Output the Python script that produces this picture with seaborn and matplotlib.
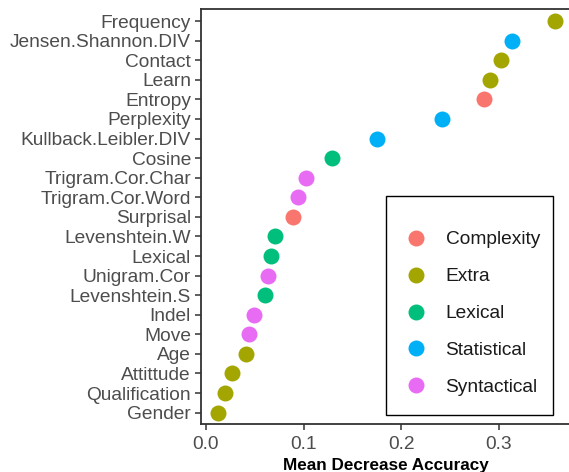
import matplotlib
matplotlib.use("Agg")
import matplotlib.pyplot as plt
import pandas as pd
import seaborn as sns
from matplotlib.patches import Rectangle

features = [
    "Frequency", "Jensen.Shannon.DIV", "Contact", "Learn", "Entropy", "Perplexity",
    "Kullback.Leibler.DIV", "Cosine", "Trigram.Cor.Char", "Trigram.Cor.Word",
    "Surprisal", "Levenshtein.W", "Lexical", "Unigram.Cor", "Levenshtein.S",
    "Indel", "Move", "Age", "Attittude", "Qualification", "Gender",
]
accuracy = [
    0.3576, 0.314, 0.302, 0.291, 0.285, 0.242,
    0.175, 0.129, 0.1025, 0.094,
    0.0895, 0.0703, 0.0666, 0.0632, 0.0605,
    0.0495, 0.044, 0.0406, 0.0263, 0.0195, 0.012,
]
groups = [
    "Extra", "Statistical", "Extra", "Extra", "Complexity", "Statistical",
    "Statistical", "Lexical", "Syntactical", "Syntactical",
    "Complexity", "Lexical", "Lexical", "Syntactical", "Lexical",
    "Syntactical", "Syntactical", "Extra", "Extra", "Extra", "Extra",
]
group_order = ["Complexity", "Extra", "Lexical", "Statistical", "Syntactical"]
palette = ["#F8766D", "#A3A500", "#00BF7D", "#00B0F6", "#E76BF3"]

df = pd.DataFrame({"feature": features, "mda": accuracy, "group": groups})

sns.set_style("ticks")
plt.rcParams["font.family"] = ["Liberation Sans", "DejaVu Sans"]

W, H = 569, 472
fig = plt.figure(figsize=(W / 100, H / 100), dpi=100)
left, right, top, bottom = 200.7, 572.0, 9.3, 424.4
ax = fig.add_axes([left / W, 1 - bottom / H, (right - left) / W, (bottom - top) / H])

sns.stripplot(
    data=df, x="mda", y="feature", hue="group", order=features,
    hue_order=group_order, palette=palette, jitter=False, size=11.5,
    linewidth=0, ax=ax, legend=False,
)

ax.set_xlim(-0.0053, 0.375)
ax.set_ylim(len(features) - 0.4, -0.6)
ax.set_xticks([0.0, 0.1, 0.2, 0.3])
ax.set_xticklabels(["0.0", "0.1", "0.2", "0.3"])
ax.set_ylabel("")
ax.set_xlabel("Mean Decrease Accuracy", fontsize=12.3, fontweight="bold", color="black", labelpad=4)
ax.tick_params(axis="both", colors="#333333", labelcolor="#4D4D4D", labelsize=13.8,
               length=4, width=1.1)
ax.tick_params(axis="x", pad=4)
ax.tick_params(axis="y", pad=3)
for s in ax.spines.values():
    s.set_visible(True)
    s.set_color("#333333")
    s.set_linewidth(1.3)

# legend box drawn separately, entries placed inside it
fig.patches.append(Rectangle(
    (385.7 / W, 1 - 415 / H), (553.3 - 385.7) / W, (415 - 196) / H,
    transform=fig.transFigure, fill=False, edgecolor="black", linewidth=1.0, zorder=5,
))
handles = [
    plt.Line2D([], [], marker="o", linestyle="", markersize=11.5, color=c, markeredgewidth=0)
    for c in palette
]
leg = fig.legend(
    handles, group_order, loc="center left",
    bbox_to_anchor=(404.2 / W, 1 - 313.5 / H),
    frameon=False, fontsize=13.8, labelcolor="#1A1A1A",
    handletextpad=0.96, labelspacing=1.02, borderpad=0, borderaxespad=0,
    handlelength=1.2,
)

fig.savefig("out.png", dpi=100)
